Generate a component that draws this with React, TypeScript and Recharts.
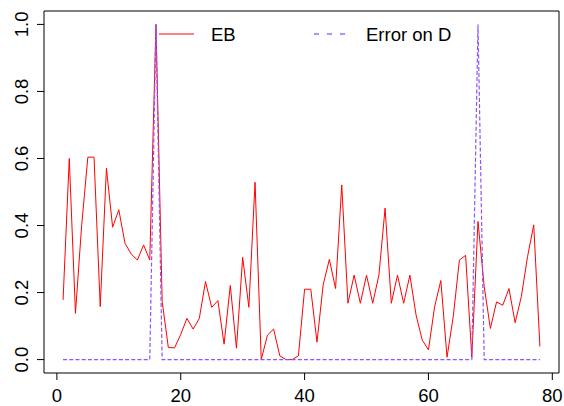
import { LineChart, Line, XAxis, YAxis, ReferenceArea } from "recharts";

const ebValues = [
  0.178, 0.6, 0.138, 0.4, 0.604, 0.604, 0.158, 0.571, 0.395, 0.447,
  0.347, 0.315, 0.297, 0.342, 0.297, 1.0, 0.173, 0.036, 0.035, 0.075,
  0.123, 0.091, 0.123, 0.233, 0.156, 0.176, 0.046, 0.221, 0.034, 0.305,
  0.156, 0.529, 0.0, 0.073, 0.091, 0.011, 0.0, 0.0, 0.011, 0.21,
  0.21, 0.052, 0.223, 0.299, 0.212, 0.521, 0.168, 0.252, 0.168, 0.252,
  0.168, 0.252, 0.452, 0.168, 0.252, 0.168, 0.252, 0.133, 0.058, 0.029,
  0.158, 0.236, 0.007, 0.128, 0.297, 0.311, 0.007, 0.412, 0.218, 0.093,
  0.172, 0.162, 0.212, 0.11, 0.188, 0.307, 0.402, 0.039,
];

const errorOnD = [
  0, 0, 0, 0, 0, 0, 0, 0, 0, 0,
  0, 0, 0, 0, 0, 1, 0, 0, 0, 0,
  0, 0, 0, 0, 0, 0, 0, 0, 0, 0,
  0, 0, 0, 0, 0, 0, 0, 0, 0, 0,
  0, 0, 0, 0, 0, 0, 0, 0, 0, 0,
  0, 0, 0, 0, 0, 0, 0, 0, 0, 0,
  0, 0, 0, 0, 0, 0, 0, 1, 0, 0,
  0, 0, 0, 0, 0, 0, 0, 0,
];

const xTicks = [0, 20, 40, 60, 80];
const yTicks = [0, 0.2, 0.4, 0.6, 0.8, 1.0];

const data = ebValues.map((eb, i) => ({ x: i + 1, eb, err: errorOnD[i] }));

const RED = "#FF0000";
const BLUE = "#8B55FF";
const FONT = "'Liberation Sans', Arial, Helvetica, sans-serif";

function XTick({ x, payload }: any) {
  return (
    <text x={x} y={402} textAnchor="middle" fontSize={18.5} fontFamily={FONT} fill="#000">
      {payload.value}
    </text>
  );
}

function YTick({ y, payload }: any) {
  return (
    <text
      x={28}
      y={y}
      transform={`rotate(-90, 28, ${y})`}
      textAnchor="middle"
      fontSize={18.5}
      fontFamily={FONT}
      fill="#000"
    >
      {Number(payload.value).toFixed(1)}
    </text>
  );
}

export default function App() {
  return (
    <div style={{ position: "relative", width: 564, height: 406, background: "#fff" }}>
      <style>{`body{margin:0}`}</style>
      <LineChart
        width={564}
        height={406}
        data={data}
        margin={{ top: 11, right: 5, left: 0, bottom: 0 }}
      >
        <XAxis
          dataKey="x"
          type="number"
          domain={[-2.08, 81.08]}
          ticks={xTicks}
          allowDataOverflow
          axisLine={false}
          tickLine={{ stroke: "#000" }}
          tickSize={7}
          height={33}
          tick={<XTick />}
        />
        <YAxis
          type="number"
          domain={[-0.04, 1.04]}
          ticks={yTicks}
          allowDataOverflow
          axisLine={false}
          tickLine={{ stroke: "#000" }}
          tickSize={7}
          width={44}
          tick={<YTick />}
        />
        <Line
          dataKey="eb"
          type="linear"
          stroke={RED}
          strokeWidth={1}
          dot={false}
          isAnimationActive={false}
        />
        <Line
          dataKey="err"
          type="linear"
          stroke={BLUE}
          strokeWidth={1.2}
          strokeDasharray="4 2.2"
          dot={false}
          isAnimationActive={false}
        />
        <ReferenceArea
          x1={-2.08}
          x2={81.08}
          y1={-0.04}
          y2={1.04}
          fill="none"
          stroke="#000"
          strokeWidth={1}
          ifOverflow="visible"
        />
      </LineChart>
      <svg
        width={564}
        height={60}
        style={{ position: "absolute", left: 0, top: 0, pointerEvents: "none" }}
      >
        <line x1={159} x2={194} y1={34} y2={34} stroke={RED} strokeWidth={1} />
        <text x={211} y={41} fontSize={18.5} fontFamily={FONT} fill="#000">
          EB
        </text>
        <line
          x1={314}
          x2={346}
          y1={34}
          y2={34}
          stroke="#6A1FFF"
          strokeWidth={1}
          strokeDasharray="5 8"
        />
        <text x={366} y={41} fontSize={18.5} fontFamily={FONT} fill="#000">
          Error on D
        </text>
      </svg>
    </div>
  );
}
